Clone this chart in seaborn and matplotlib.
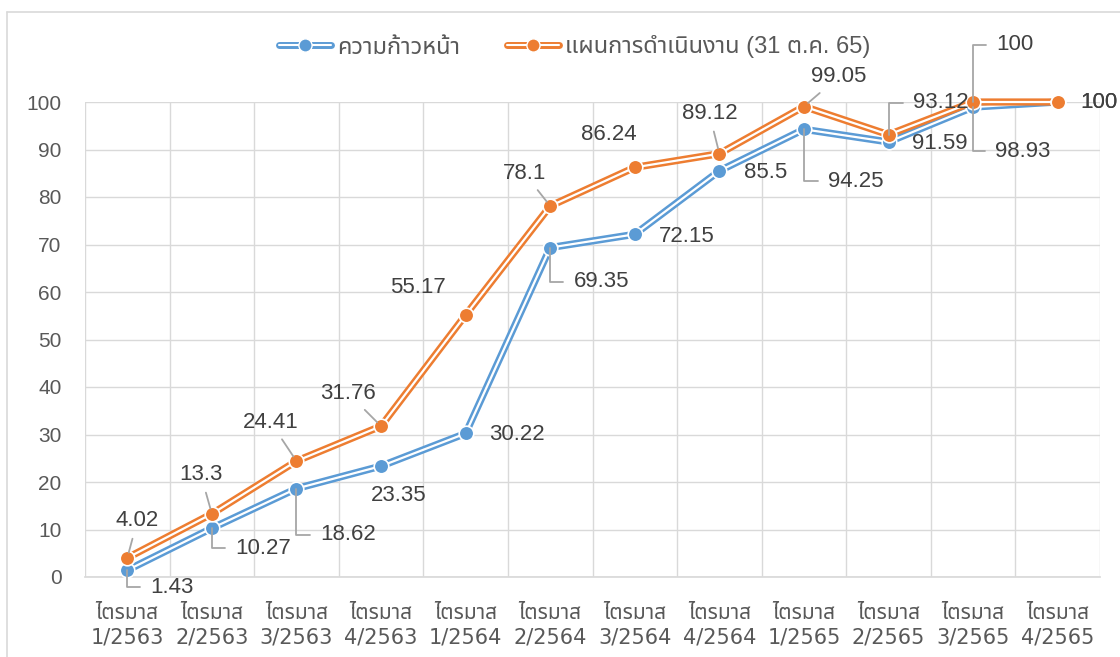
import matplotlib
matplotlib.use("Agg")
import matplotlib.pyplot as plt
import seaborn as sns
import pandas as pd
from matplotlib import font_manager
from matplotlib.lines import Line2D
from matplotlib.legend_handler import HandlerTuple
from fontTools.ttLib import TTFont

# Data
quarters = ['ไตรมาส\n1/2563', 'ไตรมาส\n2/2563', 'ไตรมาส\n3/2563', 'ไตรมาส\n4/2563',
            'ไตรมาส\n1/2564', 'ไตรมาส\n2/2564', 'ไตรมาส\n3/2564', 'ไตรมาส\n4/2564',
            'ไตรมาส\n1/2565', 'ไตรมาส\n2/2565', 'ไตรมาส\n3/2565', 'ไตรมาส\n4/2565']
progress = [1.43, 10.27, 18.62, 23.35, 30.22, 69.35, 72.15, 85.5, 94.25, 91.59, 98.93, 100]
plan = [4.02, 13.3, 24.41, 31.76, 55.17, 78.1, 86.24, 89.12, 99.05, 93.12, 100, 100]
series_names = ['ความก้าวหน้า', 'แผนการดำเนินงาน (31 ต.ค. 65)']

df = pd.DataFrame({'idx': range(len(quarters)), 'progress': progress, 'plan': plan})

BLUE = '#5B9BD5'
ORANGE = '#ED7D31'
TXT = '#404040'
LEAD = '#A6A6A6'
GRID = '#D9D9D9'


def find_thai_font():
    found = []
    for f in font_manager.fontManager.ttflist:
        try:
            tt = TTFont(f.fname, fontNumber=0, lazy=True)
            cmap = tt.getBestCmap()
            if cmap and 0x0E44 in cmap and 0x0E23 in cmap:
                found.append(f.name)
        except Exception:
            pass
    for pref in ['Noto Sans Thai', 'Noto Sans Thai UI', 'Loma', 'Garuda', 'Tahoma']:
        if pref in found:
            return pref
    return found[0] if found else None


sns.set_theme(style='whitegrid')
thai = find_thai_font()
extra = [thai] if thai else []
families = ['Liberation Sans'] + extra + ['DejaVu Sans']
xfamilies = ['DejaVu Sans'] + extra
plt.rcParams['font.family'] = families

fig = plt.figure(figsize=(11.2, 6.57), dpi=100)
ax = fig.add_axes([85 / 1120, 1 - 577 / 657, 1015 / 1120, 475 / 657])

for col, color in [('progress', BLUE), ('plan', ORANGE)]:
    sns.lineplot(data=df, x='idx', y=col, color=color, lw=5.2, ax=ax, clip_on=False)
    ax.plot(df['idx'], df[col], color='white', lw=1.6, clip_on=False)
    ax.plot(df['idx'], df[col], ls='none', marker='o', ms=10.5, mfc=color,
            mec='white', mew=1.2, clip_on=False, zorder=4)

ax.set_xlim(-0.5, len(quarters) - 0.5)
ax.set_ylim(0, 100)
ax.set_yticks(range(0, 101, 10))
ax.set_xticks(range(len(quarters)))
ax.set_xticklabels(quarters)
ax.set_xticks([i + 0.5 for i in range(-1, len(quarters))], minor=True)
ax.grid(False)
ax.grid(True, which='minor', axis='x', color=GRID, lw=1)
ax.grid(True, which='major', axis='y', color=GRID, lw=1)
ax.set_axisbelow(True)
for s in ['top', 'right', 'left']:
    ax.spines[s].set_visible(False)
ax.spines['bottom'].set_color(GRID)
ax.tick_params(axis='both', which='both', length=0, colors='#595959')
ax.tick_params(axis='y', labelsize=15, pad=17)
ax.tick_params(axis='x', labelsize=15, pad=19)
for t in ax.get_xticklabels():
    t.set_fontfamily(xfamilies)
    t.set_linespacing(1.25)
ax.set_xlabel('')
ax.set_ylabel('')
ax.set_facecolor('white')

# label offsets in pixels (dx, dy) and leader style
blue_lab = [((45, -17), 'elbow'), ((51, -20), 'elbow'), ((52, -46), 'elbow'), ((18, -29), None),
            ((51, -1), None), ((51, -34), 'elbow'), ((52, -2), None), ((46, -2), None),
            ((52, -52), 'elbow'), ((51, -2), None), ((50, -44), 'elbow'), ((41, 0), None)]
orange_lab = [((10, 37), 'line'), ((-11, 39), 'line'), ((-26, 39), 'line'), ((-33, 33), 'line'),
              ((-48, 27), None), ((-26, 33), 'line'), ((-26, 33), None), ((-10, 40), 'line'),
              ((35, 30), 'line'), ((52, 32), 'elbow'), ((42, 57), 'elbow'), ((41, 0), None)]

for vals, labs in [(progress, blue_lab), (plan, orange_lab)]:
    for i, (v, ((dx, dy), lead)) in enumerate(zip(vals, labs)):
        kw = dict(xy=(i, v), xytext=(dx, dy), textcoords='offset pixels',
                  ha='center', va='center', fontsize=16, color=TXT, zorder=6,
                  annotation_clip=False)
        if lead == 'elbow':
            kw['arrowprops'] = dict(arrowstyle='-', color=LEAD, lw=1.3, shrinkA=5, shrinkB=0,
                                    relpos=(0, 0.5),
                                    connectionstyle='angle,angleA=0,angleB=90,rad=0')
        elif lead == 'line':
            kw['arrowprops'] = dict(arrowstyle='-', color=LEAD, lw=1.3, shrinkA=3, shrinkB=4)
        ax.annotate(f'{v:g}', **kw)

# legend with double-line handles
handles = []
for color in [BLUE, ORANGE]:
    h1 = Line2D([], [], color=color, lw=5)
    h2 = Line2D([], [], color='white', lw=1.5)
    h3 = Line2D([], [], ls='none', marker='o', ms=9.5, mfc=color, mec='white', mew=1)
    handles.append((h1, h2, h3))
fig.legend(handles, series_names, handler_map={tuple: HandlerTuple(ndivide=1, pad=0)},
           loc='center', bbox_to_anchor=(575 / 1120, 1 - 47 / 657), ncol=2, frameon=False,
           fontsize=17, labelcolor='#595959', handlelength=2.2, columnspacing=2.0,
           handletextpad=0.25)

# chart frame edges
fig.add_artist(Line2D([7 / 1120, 7 / 1120], [0, 1 - 12 / 657], color=GRID, lw=1.2))
fig.add_artist(Line2D([7 / 1120, 1], [1 - 12 / 657, 1 - 12 / 657], color=GRID, lw=1.2))

fig.savefig('out.png', dpi=100, facecolor='white')
